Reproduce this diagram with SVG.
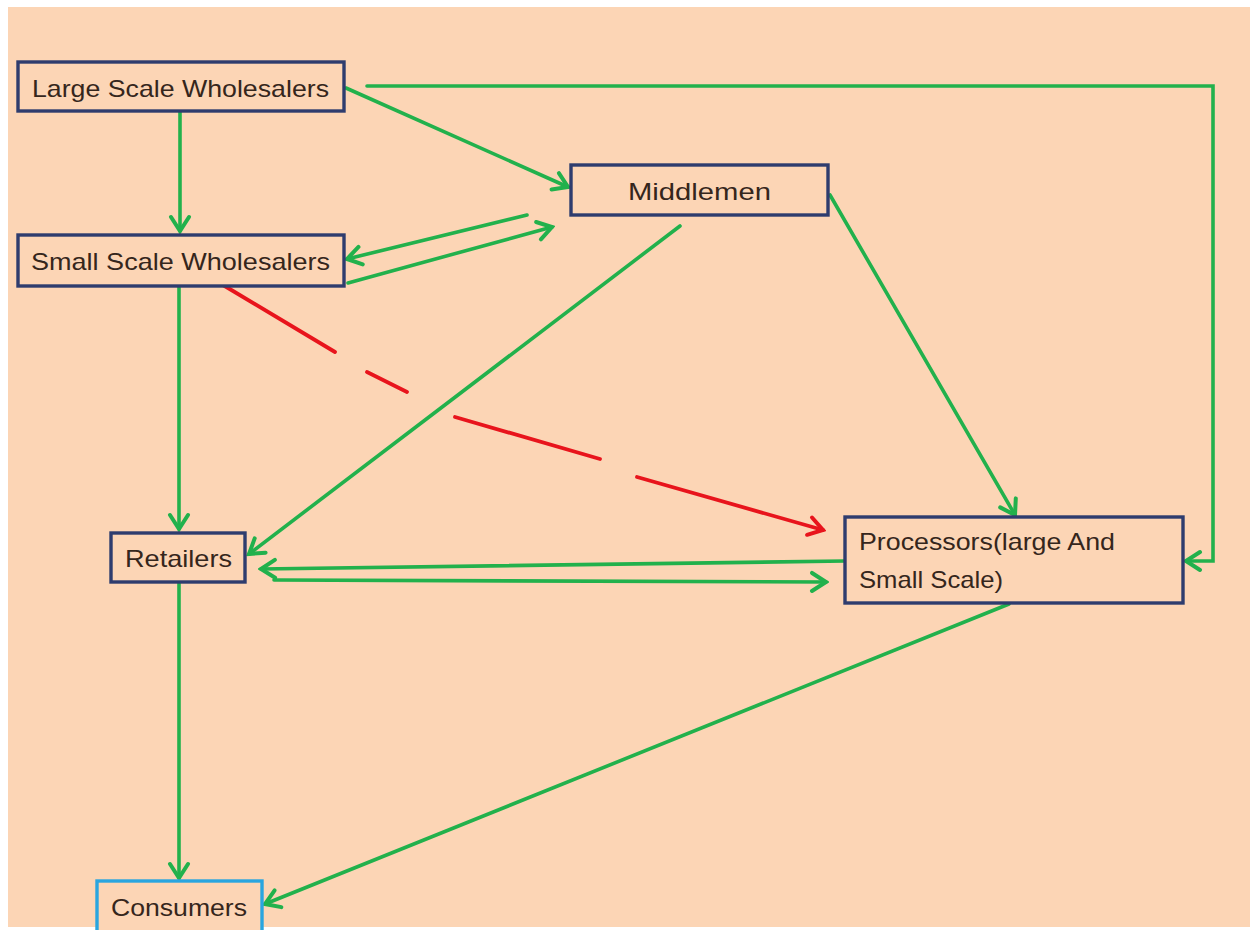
<svg xmlns="http://www.w3.org/2000/svg" width="1255" height="930" viewBox="0 0 1255 930">
<style>
.node rect{fill:#FCD5B5;stroke:#2E3C6E;stroke-width:3.4}
.node text{font-family:"Liberation Sans",Arial,sans-serif;font-size:24px;fill:#35261C}
.g{fill:none;stroke:#22B14C;stroke-width:3.6;stroke-linecap:round;stroke-linejoin:miter;marker-end:url(#ag)}
.r{fill:none;stroke:#E8141C;stroke-width:3.8;stroke-linecap:round;marker-end:url(#ar)}
</style>
<defs>
<marker id="ag" viewBox="-17 -12 20 24" markerWidth="20" markerHeight="24" refX="0" refY="0" orient="auto" markerUnits="userSpaceOnUse">
<path d="M-14,-9 L0,0 L-14,9" fill="none" stroke="#22B14C" stroke-width="4" stroke-linecap="round" stroke-linejoin="miter"/>
</marker>
<marker id="ar" viewBox="-17 -12 20 24" markerWidth="20" markerHeight="24" refX="0" refY="0" orient="auto" markerUnits="userSpaceOnUse">
<path d="M-14,-9 L0,0 L-14,9" fill="none" stroke="#E8141C" stroke-width="4" stroke-linecap="round" stroke-linejoin="miter"/>
</marker>
</defs>
<rect x="0" y="0" width="1255" height="930" fill="#FFFFFF"/>
<rect x="8" y="7" width="1242" height="920" fill="#FCD5B5"/>
<g id="connectors">
<path class="g" d="M180,111 L180,231"/>
<path class="g" d="M346,88 L568,187"/>
<path class="g" d="M367,86 L1213,86 L1213,561 L1186,561"/>
<path class="g" d="M527,215 L347,259"/>
<path class="g" d="M348,283 L552,227"/>
<path class="g" d="M179,286 L179,529"/>
<path class="g" d="M680,226 L249,554"/>
<path class="g" d="M830,195 L1015,515"/>
<path class="r" d="M223,285 L335,352 M367,372 L407,392 M455,417 L600,459 M637,477 L823,530"/>
<path class="g" d="M845,561 L261,569"/>
<path class="g" d="M274,580 L826,582"/>
<path class="g" d="M179,582 L179,878"/>
<path class="g" d="M1009,604 L265,904"/>
</g>
<g id="large-scale-wholesalers" class="node">
<rect x="18" y="62" width="326" height="49"/>
<text x="32" y="97" textLength="297" lengthAdjust="spacingAndGlyphs">Large Scale Wholesalers</text>
</g>
<g id="small-scale-wholesalers" class="node">
<rect x="18" y="235" width="326" height="51"/>
<text x="31" y="270" textLength="299" lengthAdjust="spacingAndGlyphs">Small Scale Wholesalers</text>
</g>
<g id="middlemen" class="node">
<rect x="571" y="165" width="257" height="50"/>
<text x="628" y="200" textLength="143" lengthAdjust="spacingAndGlyphs">Middlemen</text>
</g>
<g id="processors" class="node">
<rect x="845" y="517" width="338" height="86"/>
<text x="859" y="550" textLength="256" lengthAdjust="spacingAndGlyphs">Processors(large And</text>
<text x="859" y="588" textLength="144" lengthAdjust="spacingAndGlyphs">Small Scale)</text>
</g>
<g id="retailers" class="node">
<rect x="111" y="533" width="134" height="49"/>
<text x="125" y="567" textLength="107" lengthAdjust="spacingAndGlyphs">Retailers</text>
</g>
<g id="consumers" class="node">
<rect x="97" y="881" width="165" height="52" style="stroke:#2AA5DF"/>
<text x="111" y="916" textLength="136" lengthAdjust="spacingAndGlyphs">Consumers</text>
</g>
</svg>
